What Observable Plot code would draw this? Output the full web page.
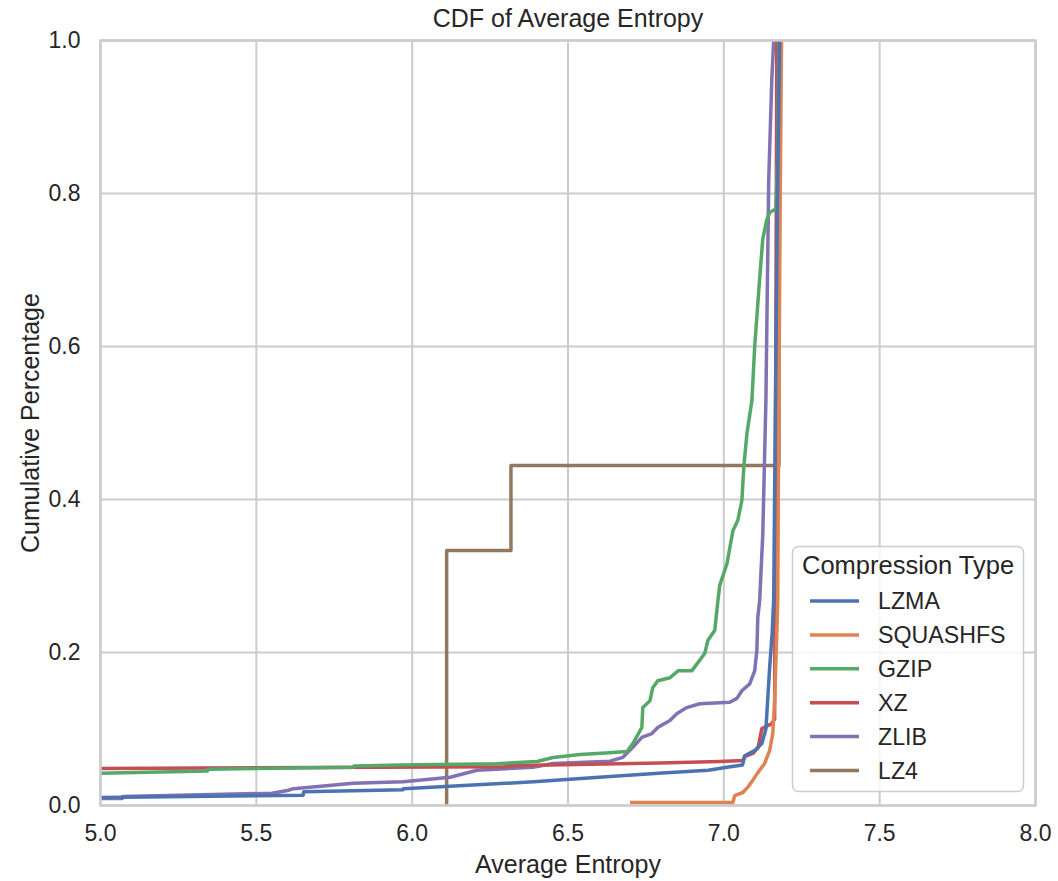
<!DOCTYPE html>
<html><head><meta charset="utf-8">
<script src="https://cdn.jsdelivr.net/npm/d3@7"></script>
<script src="https://cdn.jsdelivr.net/npm/@observablehq/plot@0.6"></script>
<style>
body{margin:0;background:#fff}
svg{font-family:"Liberation Sans",Arial,sans-serif}
</style>
</head><body><div id="chart"></div>
<script>
const titleText = "CDF of Average Entropy";
const xLabel = "Average Entropy";
const yLabel = "Cumulative Percentage";
const legendTitle = "Compression Type";
const series = ["LZMA", "SQUASHFS", "GZIP", "XZ", "ZLIB", "LZ4"];
const colors = ["#4c72b0", "#dd8452", "#55a868", "#c44e52", "#8172b3", "#937860"];
const xTicks = [5.0, 5.5, 6.0, 6.5, 7.0, 7.5, 8.0];
const yTicks = [0.0, 0.2, 0.4, 0.6, 0.8, 1.0];

const lzmaX = [5.0, 5.65, 5.652, 5.97, 5.972, 6.39, 6.60, 6.79, 6.95, 7.01, 7.06, 7.067, 7.10, 7.122, 7.135, 7.141, 7.147, 7.155, 7.16, 7.165, 7.172, 7.179];
const lzmaY = [0.0105, 0.0135, 0.018, 0.0205, 0.022, 0.031, 0.037, 0.042, 0.046, 0.050, 0.053, 0.065, 0.072, 0.081, 0.1, 0.14, 0.18, 0.225, 0.27, 0.5, 0.79, 1.0];

const squashX = [6.699, 7.029, 7.035, 7.061, 7.077, 7.093, 7.109, 7.131, 7.147, 7.157, 7.163, 7.170, 7.173, 7.176, 7.181, 7.185];
const squashY = [0.004, 0.004, 0.013, 0.017, 0.024, 0.033, 0.043, 0.055, 0.072, 0.094, 0.137, 0.225, 0.268, 0.5, 0.8, 1.0];

const gzipX = [5.0, 5.343, 5.345, 5.811, 5.813, 5.962, 6.272, 6.401, 6.452, 6.538, 6.62, 6.689, 6.708, 6.737, 6.740, 6.763, 6.772, 6.788, 6.827, 6.853, 6.897, 6.923, 6.939, 6.949, 6.971, 6.981, 6.987, 7.010, 7.029, 7.045, 7.058, 7.064, 7.074, 7.090, 7.099, 7.115, 7.125, 7.138, 7.147, 7.167, 7.173, 7.177];
const gzipY = [0.042, 0.045, 0.0475, 0.050, 0.0515, 0.053, 0.0547, 0.0575, 0.0627, 0.0667, 0.0685, 0.0706, 0.081, 0.102, 0.128, 0.137, 0.154, 0.163, 0.167, 0.176, 0.176, 0.190, 0.199, 0.216, 0.229, 0.268, 0.288, 0.316, 0.359, 0.373, 0.399, 0.442, 0.486, 0.529, 0.6, 0.689, 0.741, 0.766, 0.775, 0.78, 0.85, 1.0];

const xzX = [5.0, 6.30, 6.302, 6.795, 6.987, 7.061, 7.067, 7.093, 7.110, 7.122, 7.154, 7.163, 7.170];
const xzY = [0.0485, 0.0505, 0.052, 0.0557, 0.0575, 0.0588, 0.064, 0.068, 0.076, 0.1006, 0.107, 0.113, 1.0];

const zlibX = [5.0, 5.07, 5.072, 5.55, 5.60, 5.619, 5.811, 5.971, 6.122, 6.208, 6.388, 6.452, 6.635, 6.676, 6.708, 6.737, 6.769, 6.788, 6.827, 6.849, 6.881, 6.923, 7.019, 7.042, 7.058, 7.083, 7.099, 7.106, 7.109, 7.115, 7.125, 7.135, 7.144, 7.154, 7.16];
const zlibY = [0.009, 0.009, 0.0118, 0.016, 0.0196, 0.022, 0.029, 0.031, 0.037, 0.046, 0.05, 0.055, 0.058, 0.063, 0.076, 0.089, 0.094, 0.102, 0.111, 0.12, 0.128, 0.133, 0.135, 0.14, 0.15, 0.159, 0.176, 0.203, 0.246, 0.268, 0.355, 0.53, 0.817, 0.95, 1.0];

const lz4X = [6.1106, 6.1106, 6.317, 6.317, 7.177, 7.177];
const lz4Y = [0, 0.3333, 0.3333, 0.4444, 0.4444, 1.0];

const seriesX = [lzmaX, squashX, gzipX, xzX, zlibX, lz4X];
const seriesY = [lzmaY, squashY, gzipY, xzY, zlibY, lz4Y];

const rows = (i) => seriesX[i].map((x, j) => ({x, y: seriesY[i][j], s: series[i]}));

// seaborn draws hue levels in reverse order (first level on top)
const lineMarks = series.map((s, i) => i).reverse().map(i =>
  Plot.line(rows(i), {x: "x", y: "y", stroke: colors[i], strokeWidth: 3.5, strokeLinejoin: "round", strokeLinecap: "butt"})
);

const chart = Plot.plot({
  width: 1058, height: 881,
  marginLeft: 100, marginRight: 23, marginTop: 40, marginBottom: 76,
  style: {fontFamily: '"Liberation Sans", Arial, sans-serif', fontSize: "23px", color: "#262626", background: "#fff"},
  x: {domain: [5, 8]},
  y: {domain: [0, 1]},
  marks: [
    Plot.gridX(xTicks, {stroke: "#cccccc", strokeOpacity: 1, strokeWidth: 2}),
    Plot.gridY(yTicks, {stroke: "#cccccc", strokeOpacity: 1, strokeWidth: 2}),
    ...lineMarks,
    Plot.frame({stroke: "#cccccc", strokeWidth: 2.5}),
    Plot.axisX(xTicks, {tickSize: 0, tickPadding: 19, tickFormat: d => d.toFixed(1), label: null, fontSize: 23, fill: "#262626"}),
    Plot.axisY(yTicks, {tickSize: 0, tickPadding: 20, tickFormat: d => d.toFixed(1), label: null, fontSize: 23, fill: "#262626"}),
    Plot.text([xLabel], {text: d => d, frameAnchor: "bottom", dy: 59, lineAnchor: "middle", textAnchor: "middle", fontSize: 25, fill: "#262626"}),
    Plot.text([yLabel], {text: d => d, frameAnchor: "left", dx: -70, rotate: -90, lineAnchor: "middle", textAnchor: "middle", fontSize: 25, fill: "#262626"}),
    Plot.text([titleText], {text: d => d, frameAnchor: "top", dy: -22, lineAnchor: "middle", textAnchor: "middle", fontSize: 25, fill: "#262626"})
  ]
});
document.getElementById("chart").appendChild(chart);

// legend
const svg = d3.select(chart);
const lg = svg.append("g").attr("font-family", '"Liberation Sans", Arial, sans-serif').attr("fill", "#262626").attr("text-anchor", "start");
lg.append("rect").attr("x", 792.5).attr("y", 546.5).attr("width", 231).attr("height", 245).attr("rx", 6)
  .attr("fill", "#fff").attr("fill-opacity", 0.8).attr("stroke", "#cccccc").attr("stroke-width", 1.5);
lg.append("text").attr("x", 802).attr("y", 565).attr("dy", "0.35em").attr("text-anchor", "start").attr("font-size", 25.5).text(legendTitle);
series.forEach((s, i) => {
  const yy = 601 + 33.9 * i;
  lg.append("line").attr("x1", 810).attr("x2", 859).attr("y1", yy).attr("y2", yy)
    .attr("stroke", colors[i]).attr("stroke-width", 3.5);
  lg.append("text").attr("x", 878).attr("y", yy).attr("dy", "0.35em").attr("text-anchor", "start").attr("font-size", 23.2).text(s);
});
</script></body></html>
